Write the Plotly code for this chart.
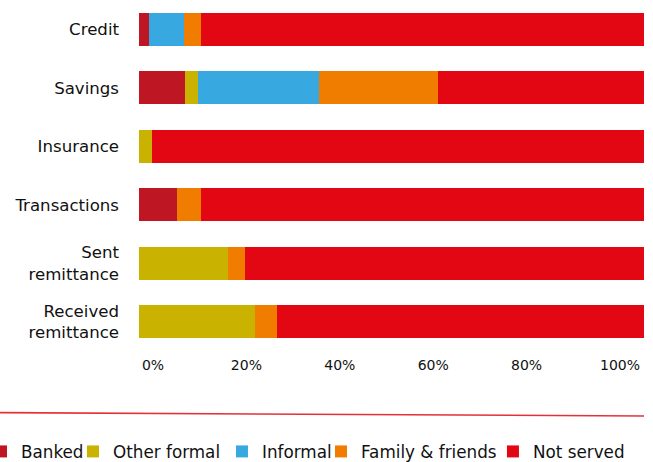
import plotly.graph_objects as go

categories = ["Credit", "Savings", "Insurance", "Transactions", "Sent<br>remittance", "Received<br>remittance"]

banked = [2.0, 9.1, 0.0, 7.5, 0.0, 0.0]
other_formal = [0.0, 2.6, 2.6, 0.0, 17.6, 23.0]
informal = [6.9, 24.0, 0.0, 0.0, 0.0, 0.0]
family_friends = [3.4, 23.5, 0.0, 4.8, 3.4, 4.4]
not_served = [87.7, 40.8, 97.4, 87.7, 79.0, 72.6]

series_names = ["Banked", "Other formal", "Informal", "Family &amp; friends", "Not served"]
series_values = [banked, other_formal, informal, family_friends, not_served]
series_colors = ["#BE1622", "#C9B300", "#38A9E0", "#F07D00", "#E30613"]

tick_values = [0, 20, 40, 60, 80, 100]
tick_labels = ["0%", "20%", "40%", "60%", "80%", "100%"]

FONT = "DejaVu Sans"
legend_names = ["legend", "legend2", "legend3", "legend4", "legend5"]
legend_x = [-0.3129, -0.1307, 0.1643, 0.3604, 0.7009]

fig = go.Figure()
for name, vals, col, lg in zip(series_names, series_values, series_colors, legend_names):
    fig.add_trace(go.Bar(
        y=categories, x=vals, name=name, orientation="h",
        marker=dict(color=col, line=dict(width=0)),
        legend=lg, hoverinfo="skip", showlegend=True,
    ))

# empty trace to hold the label axis
fig.add_trace(go.Scatter(x=[], y=[], xaxis="x2", yaxis="y", showlegend=False, hoverinfo="skip"))

layout_legends = {}
for lg, lx in zip(legend_names, legend_x):
    layout_legends[lg] = dict(
        xref="paper", yref="container", x=lx, y=0.0606,
        xanchor="left", yanchor="top", orientation="h",
        bgcolor="rgba(0,0,0,0)", borderwidth=0,
        font=dict(family=FONT, size=16.8, color="#111111"),
    )

fig.update_layout(
    width=653, height=462, showlegend=True,
    margin=dict(l=139, r=9, t=0, b=111, autoexpand=False),
    barmode="stack", bargap=0.436,
    paper_bgcolor="white", plot_bgcolor="white",
    font=dict(family=FONT, size=16.6, color="#111111"),
    xaxis=dict(range=[0, 100], visible=False, showgrid=False, zeroline=False, fixedrange=True),
    xaxis2=dict(
        overlaying="x", anchor="y", side="bottom", range=[-3.0, 105.14],
        tickvals=tick_values, ticktext=tick_labels, showgrid=False, zeroline=False,
        showline=False, ticks="", ticklabelstandoff=4, automargin=False,
        tickfont=dict(family=FONT, size=14, color="#111111"),
    ),
    yaxis=dict(
        categoryorder="array", categoryarray=categories, autorange="reversed",
        showgrid=False, zeroline=False, showline=False, ticks="", automargin=False,
        ticklabelstandoff=19, tickfont=dict(family=FONT, size=16.6, color="#111111"),
    ),
    shapes=[dict(
        type="line", xref="paper", yref="paper",
        x0=-0.2752, x1=1.0, y0=-0.1755, y1=-0.1852,
        line=dict(color="#E5303A", width=1.6),
    )],
    **layout_legends,
)

fig.write_html(
    "out.html",
    config={"displayModeBar": False},
    post_script="document.body.style.margin='0';document.body.style.overflow='hidden';",
)
